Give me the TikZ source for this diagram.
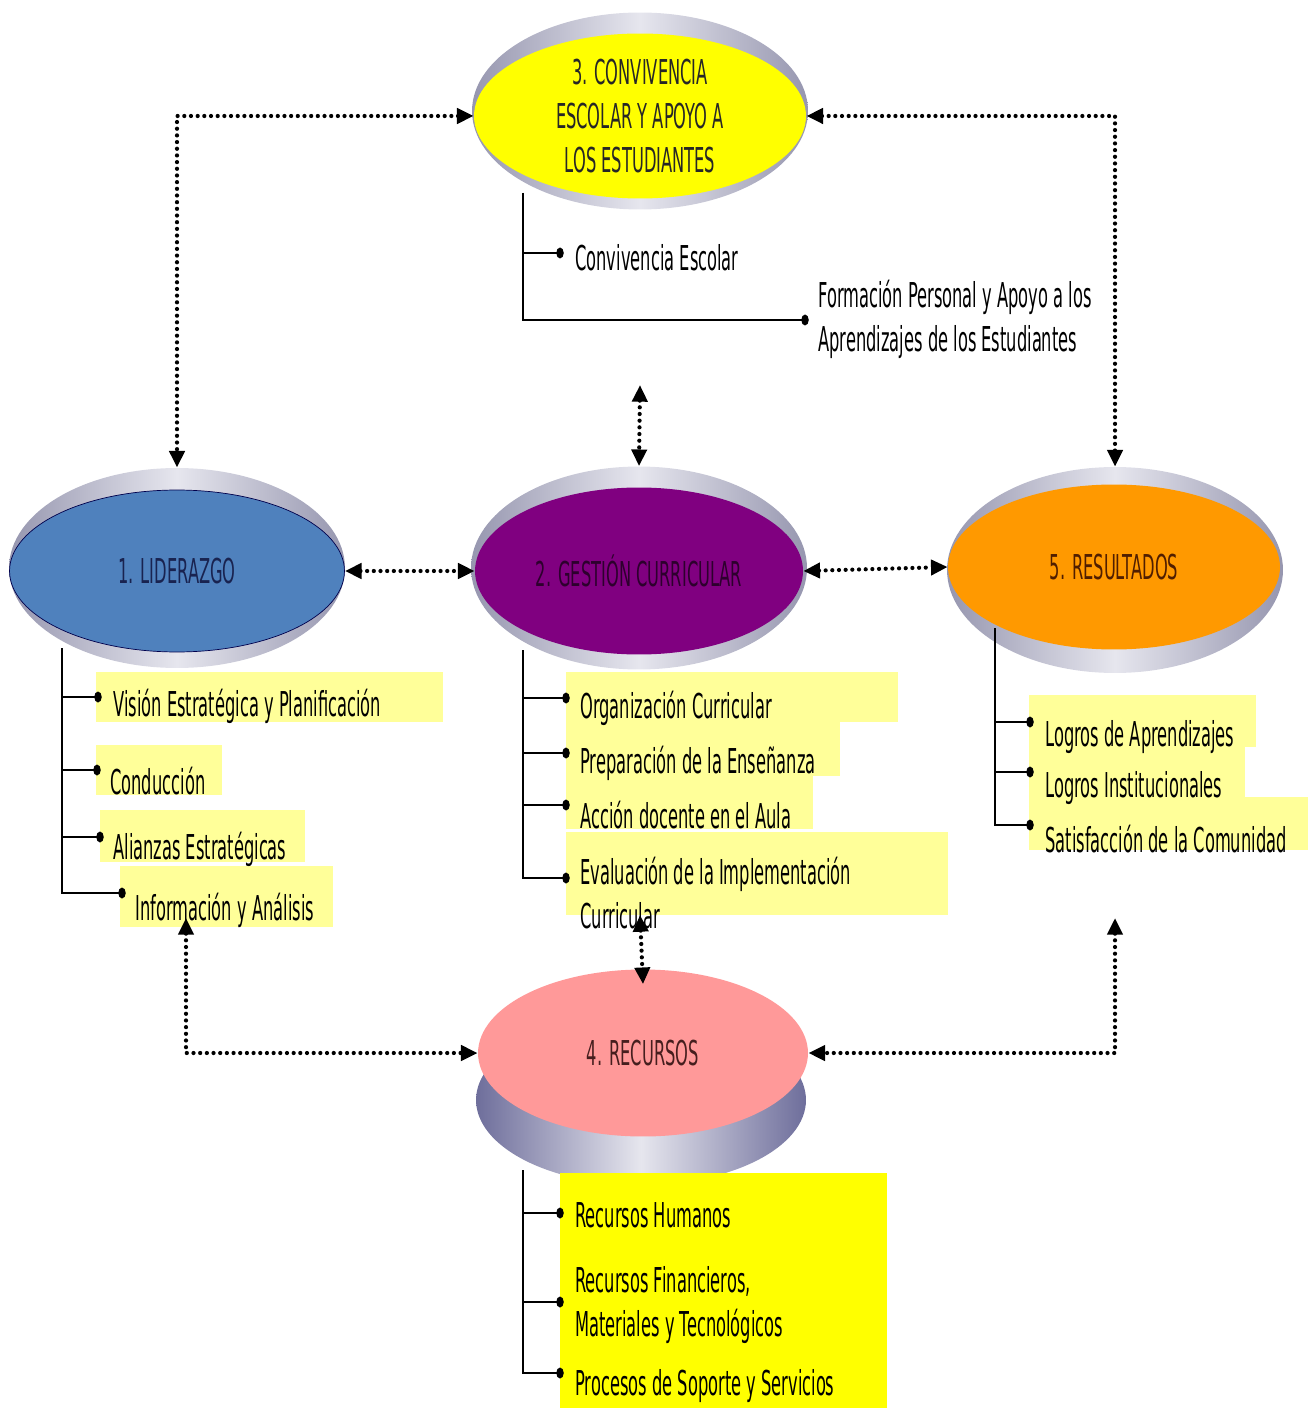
\documentclass[tikz,border=0pt]{standalone}
\usepackage{fontspec}
\setmainfont[FakeStretch=0.475]{DejaVu Sans}
\usetikzlibrary{shapes.geometric,arrows.meta}
\definecolor{azul}{RGB}{79,129,189}
\definecolor{morado}{RGB}{128,0,128}
\definecolor{naranja}{RGB}{255,153,0}
\definecolor{rosa}{RGB}{255,153,153}
\definecolor{amarillo}{RGB}{255,255,0}
\definecolor{resalte}{RGB}{255,255,153}
\definecolor{bordeosc}{RGB}{150,150,175}
\definecolor{bordecla}{RGB}{230,230,238}
\definecolor{discoosc}{RGB}{110,110,155}

\begin{document}
\begin{tikzpicture}[x=0.02cm,y=-0.02cm,
  font=\fontsize{19.5}{25}\selectfont,
  area/.style={ellipse,inner sep=0pt,align=center,minimum width=6.64cm,minimum height=3.3cm},
  rim/.style={ellipse,inner sep=0pt,minimum width=6.72cm,minimum height=4cm,
    left color=bordeosc,right color=bordeosc,middle color=bordecla},
  link/.style={line width=2.4pt,dash pattern=on 0pt off 3.8pt,line cap=round,
    {Triangle[length=9.5pt,width=8.5pt]}-{Triangle[length=9.5pt,width=8.5pt]}},
  branch/.style={line width=1.4pt},
  item/.style={anchor=west,inner sep=0pt,align=left},
  hl/.style={fill=resalte}]
\useasboundingbox (0,0) rectangle (1308,1408);

%ejes (rims first, coloured ellipses on top)
\node[rim,minimum height=3.94cm] (r3) at (640,111) {};
\node[rim] (r1) at (177,568) {};
\node[rim,minimum height=4.06cm] (r2) at (639,568) {};
\node[rim,minimum height=4.12cm] (r5) at (1115,570) {};
\node[rim,minimum height=3.4cm,minimum width=6.6cm,left color=discoosc,right color=discoosc,middle color=bordecla] (r4) at (641,1100) {};

\node[area,fill=amarillo,inner ysep=-8pt,text=black!85] (n3) at (640,116) {3. CONVIVENCIA\\ESCOLAR Y APOYO A\\LOS ESTUDIANTES};
\node[area,fill=azul,draw=blue!30!black,minimum width=6.7cm,minimum height=3.24cm,text={rgb,255:red,25;green,35;blue,80}] (n1) at (177,571) {1. LIDERAZGO};
\node[area,fill=morado,minimum width=6.56cm,minimum height=3.34cm,text={rgb,255:red,45;green,0;blue,45}] (n2) at (639,571) {2. GESTIÓN CURRICULAR};
\node[area,fill=naranja,text={rgb,255:red,80;green,30;blue,0}] (n5) at (1114,567) {5. RESULTADOS};
\node[area,fill=rosa,minimum width=6.6cm,minimum height=3.34cm,text={rgb,255:red,70;green,30;blue,30}] (n4) at (643,1053) {4. RECURSOS};

%highlight boxes
\fill[hl] (96,672) rectangle (443,722);
\fill[hl] (96,745) rectangle (222,795);
\fill[hl] (100,810) rectangle (305,862);
\fill[hl] (120,866) rectangle (333,927);
\fill[hl] (566,672) rectangle (898,722);
\fill[hl] (566,722) rectangle (840,776);
\fill[hl] (566,776) rectangle (813,829);
\fill[hl] (566,832) rectangle (948,915);
\fill[hl] (1029,695) rectangle (1256,747);
\fill[hl] (1029,747) rectangle (1245,798);
\fill[hl] (1029,797) rectangle (1308,850);
\fill[amarillo] (560,1173) rectangle (887,1408);

%items
\node[item] (i31) at (575,258) {Convivencia Escolar};
\node[item] (i32) at (818,319) {Formación Personal y Apoyo a los\\Aprendizajes de los Estudiantes};
\node[item] (i11) at (113,706) {Visión Estratégica y Planificación};
\node[item] (i12) at (110,781) {Conducción};
\node[item] (i13) at (113,849) {Alianzas Estratégicas};
\node[item] (i14) at (135,910) {Información y Análisis};
\node[item] (i21) at (580,708) {Organización Curricular};
\node[item] (i22) at (580,763) {Preparación de la Enseñanza};
\node[item] (i23) at (580,815) {Acción docente en el Aula};
\node[item] (i24) at (580,893) {Evaluación de la Implementación\\Curricular};
\node[item] (i51) at (1045,737) {Logros de Aprendizajes};
\node[item] (i52) at (1045,788) {Logros Institucionales};
\node[item] (i53) at (1045,839) {Satisfacción de la Comunidad};
\node[item] (i41) at (575,1215) {Recursos Humanos};
\node[item] (i42) at (575,1305) {Recursos Financieros,\\Materiales y Tecnológicos};
\node[item] (i43) at (575,1386) {Procesos de Soporte y Servicios};

%trunks and bullets
\coordinate (t3) at (523,193);
\coordinate (t1) at (62,648);
\coordinate (t2) at (523,650);
\coordinate (t5) at (995,628);
\coordinate (t4) at (523,1170);
\foreach \g/\pts in {3/{560/253,805/320},
                     1/{98/697,97/770,100/837,122/893},
                     2/{566/698,566/753,566/805,566/878},
                     5/{1030/722,1030/772,1030/825},
                     4/{560/1213,560/1302,560/1373}}{
  \foreach \x/\y [count=\i] in \pts{
    \coordinate (p\g\i) at (\x,\y);
    \draw[branch] (t\g) |- (p\g\i);
    \fill (p\g\i) ellipse (0.075cm and 0.11cm);
  }
}

%dotted links
\coordinate (c23) at (640,385);
\coordinate (c24) at (640,915);
\coordinate (c14) at (186,918);
\coordinate (c54) at (1115,918);
\draw[link] (n3.west) -| (r1.north);
\draw[link] (n3.east) -| (r5.north);
\draw[link] (c23) -- (r2.north);
\draw[link] (n1.east) -- (n2.west);
\draw[link] (n2.east) -- (n5.west);
\draw[link] (c24) -- ([yshift=-0.3cm]n4.north);
\draw[link] (c14) |- (n4.west);
\draw[link] (c54) |- (n4.east);
\end{tikzpicture}
\end{document}
